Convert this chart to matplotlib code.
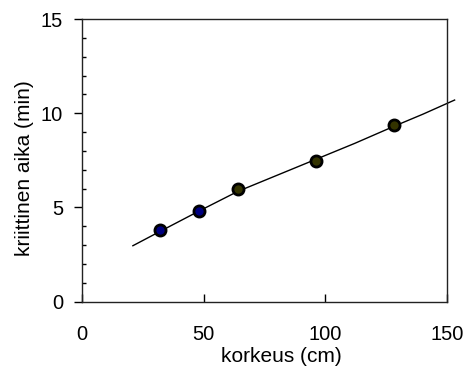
import numpy as np
import matplotlib
matplotlib.use("Agg")
import matplotlib.pyplot as plt
from matplotlib.ticker import MultipleLocator

# measured points
height_cm = [32, 48, 64, 96, 128]
crit_time = [3.8, 4.83, 6.0, 7.45, 9.4]
point_colors = ['#000080', '#000080', '#333300', '#333300', '#333300']

# fitted curve
fit_x = [21, 32, 48, 64, 80, 96, 112, 128, 140, 153]
fit_y = [2.97, 3.72, 4.8, 5.85, 6.7, 7.55, 8.4, 9.3, 9.95, 10.7]

x_ticks = [0, 50, 100, 150]
y_ticks = [0, 5, 10, 15]

plt.rcParams['font.family'] = ['Liberation Sans', 'DejaVu Sans']

fig = plt.figure(figsize=(4.65, 3.67), dpi=100)
ax = fig.add_axes([81.7 / 465, 1 - 301.7 / 367, (447.3 - 81.7) / 465, (301.7 - 19) / 367])

ax.plot(fit_x, fit_y, color='black', linewidth=1, clip_on=False, zorder=2)
for x, y, c in zip(height_cm, crit_time, point_colors):
    ax.plot(x, y, 'o', markersize=8, markerfacecolor=c, markeredgecolor='black',
            markeredgewidth=2, zorder=3)

ax.set_xlim(0, 150)
ax.set_ylim(0, 15)
ax.set_xticks(x_ticks)
ax.set_yticks(y_ticks)
ax.yaxis.set_minor_locator(MultipleLocator(1))

ax.tick_params(axis='x', direction='in', length=5.5, width=1, labelsize=14.5, pad=16.5, top=False)
ax.tick_params(axis='y', which='major', direction='out', length=5.5, width=1, labelsize=14.5, pad=8, right=False)
ax.tick_params(axis='y', which='minor', direction='in', length=3, width=1, right=False)

for s in ax.spines.values():
    s.set_linewidth(1)
    s.set_color('#222222')

ax.set_xlabel('korkeus (cm)', fontsize=15)
ax.set_ylabel('kriittinen aika (min)', fontsize=15)
ax.xaxis.set_label_coords(0.545, -0.16)
ax.yaxis.set_label_coords(-0.13, 0.473)

fig.savefig('out.png', dpi=100)
